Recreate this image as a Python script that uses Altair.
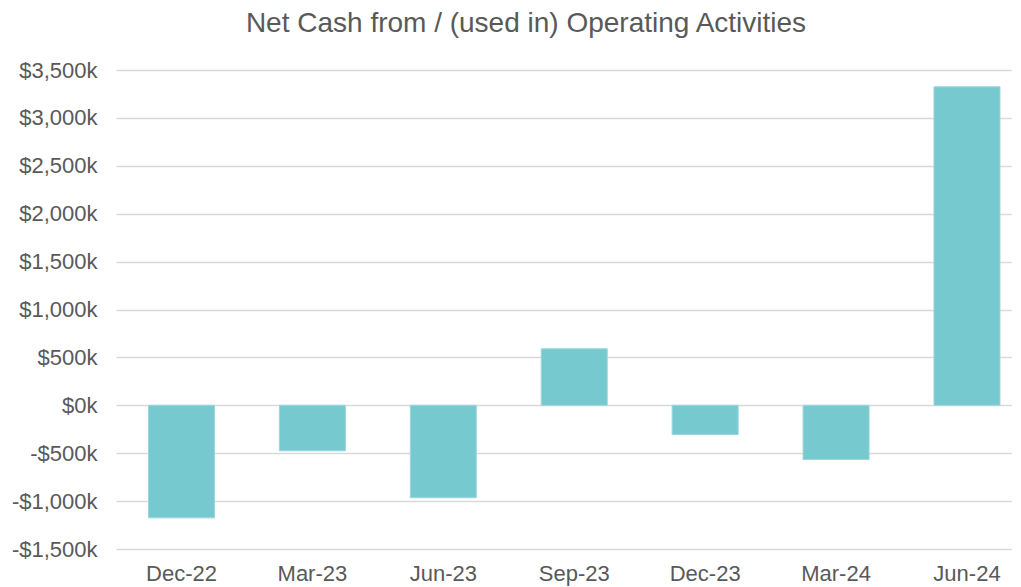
import altair as alt
import pandas as pd

quarters = ["Dec-22", "Mar-23", "Jun-23", "Sep-23", "Dec-23", "Mar-24", "Jun-24"]
net_cash_k = [-1175, -475, -965, 590, -305, -565, 3325]
y_ticks = [-1500, -1000, -500, 0, 500, 1000, 1500, 2000, 2500, 3000, 3500]

df = pd.DataFrame({"quarter": quarters, "value": net_cash_k})

FONT = "Liberation Sans"
GREY = "#595959"

chart = (
    alt.Chart(df)
    .mark_bar(color="#76C9CF", stroke="#9AD6DB", strokeWidth=1)
    .encode(
        x=alt.X(
            "quarter:N",
            sort=quarters,
            title=None,
            scale=alt.Scale(paddingInner=0.496, paddingOuter=0.17, align=0.73),
            axis=alt.Axis(
                labelAngle=0,
                labelFontSize=22,
                labelColor=GREY,
                labelFont=FONT,
                labelPadding=14,
                ticks=False,
                domain=False,
                grid=False,
            ),
        ),
        y=alt.Y(
            "value:Q",
            title=None,
            scale=alt.Scale(domain=[-1500, 3500], nice=False, zero=False),
            axis=alt.Axis(
                values=y_ticks,
                labelExpr="(datum.value < 0 ? '-' : '') + '$' + format(abs(datum.value), ',') + 'k'",
                labelFontSize=22,
                labelColor=GREY,
                labelFont=FONT,
                labelPadding=19,
                ticks=False,
                domain=False,
                gridColor="#D9D9D9",
                gridWidth=1.5,
            ),
        ),
    )
    .properties(
        width=896,
        height=479,
        autosize=alt.AutoSizeParams(type="none"),
        padding={"left": 108, "top": 62, "right": 0, "bottom": 38},
        title=alt.TitleParams(
            "Net Cash from / (used in) Operating Activities",
            fontSize=28,
            font=FONT,
            color=GREY,
            fontWeight="normal",
            anchor="middle",
            offset=21,
            dx=-38,
        ),
    )
    .configure_view(stroke=None)
)

chart.save("out.html", embed_options={"renderer": "svg", "actions": False})
